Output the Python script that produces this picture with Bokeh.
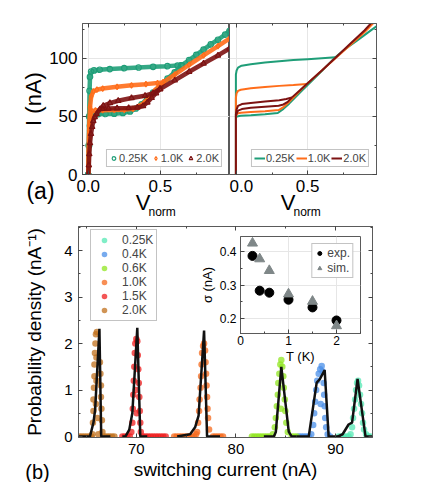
from bokeh.plotting import figure
from bokeh.models import (Range1d, LinearAxis, SingleIntervalTicker, Legend,
                          LegendItem, PrintfTickFormatter)
from bokeh.layouts import column, row
from bokeh.embed import file_html
from bokeh.resources import INLINE
from bokeh.core.properties import value

FONT = "Liberation Sans"

# ---------------- panel (a) data : experiment (left) ----------------
exp_025_up_v = [0.0, 0.003, 0.006, 0.009, 0.012, 0.02, 0.04, 0.08, 0.15, 0.25, 0.35, 0.45, 0.55, 0.62, 0.648]
exp_025_up_i = [0, 25, 50, 72, 84, 88.5, 89.6, 90.2, 90.8, 91.5, 92.1, 92.7, 93.3, 93.8, 94]
exp_025_norm_v = [0.648, 0.7, 0.75, 0.8, 0.85, 0.9, 0.95, 0.98]
exp_025_norm_i = [94, 98.5, 103, 107.5, 112, 116, 120.5, 123.5]
exp_025_down_v = [0.648, 0.6, 0.55, 0.5, 0.45, 0.41, 0.37, 0.33, 0.29, 0.24, 0.18, 0.12, 0.07, 0.035, 0.02, 0.012, 0.006, 0.0]
exp_025_down_i = [94, 88, 82.5, 76.5, 70.5, 65.5, 60.5, 56.8, 54.3, 53, 52.4, 52.1, 52, 51.8, 50, 42, 25, 0]

exp_10_up_v = [0.0, 0.003, 0.007, 0.012, 0.02, 0.035, 0.06, 0.1, 0.2, 0.3, 0.4, 0.48, 0.52]
exp_10_up_i = [0, 20, 42, 58, 67, 71.5, 73, 74, 75.5, 76.8, 77.8, 78.7, 79.3]
exp_10_norm_v = [0.52, 0.6, 0.7, 0.8, 0.9, 0.98]
exp_10_norm_i = [79.3, 86, 94.5, 102.5, 110.5, 117]
exp_10_down_v = [0.52, 0.49, 0.46, 0.43, 0.39, 0.35, 0.31, 0.25, 0.18, 0.1, 0.05, 0.025, 0.014, 0.007, 0.0]
exp_10_down_i = [79.3, 76, 72, 67, 62, 58.5, 56.5, 55.7, 55.5, 55.4, 55.2, 54.5, 50, 38, 0]

exp_20_up_v = [0.0, 0.004, 0.007, 0.012, 0.019, 0.027, 0.035, 0.045, 0.058, 0.081, 0.104, 0.15, 0.208, 0.3, 0.394, 0.45, 0.498]
exp_20_up_i = [0, 8, 17.5, 27, 35, 41, 46, 49.5, 52, 56.3, 59.2, 61.5, 63.5, 65.8, 67.8, 70, 73.6]
exp_20_norm_v = [0.498, 0.6, 0.7, 0.8, 0.9, 0.98]
exp_20_norm_i = [73.6, 81, 88.5, 95.5, 102.5, 108.5]
exp_20_down_v = [0.498, 0.47, 0.44, 0.41, 0.38, 0.34, 0.28, 0.2, 0.14, 0.1]
exp_20_down_i = [73.6, 70, 66, 62, 59, 57.6, 57.2, 57, 56.8, 56.5]

# ---------------- panel (a) data : simulation (right) ----------------
sim_025_up_v = [-0.005, -0.005, 0.0, 0.01, 0.035, 0.1, 0.2, 0.3, 0.4, 0.5, 0.6, 0.695]
sim_025_up_i = [0, 86, 89.5, 92, 93.7, 95, 96.5, 97.5, 98.5, 99.3, 100.1, 100.9]
sim_025_norm_v = [0.695, 0.75, 0.8, 0.85, 0.9, 0.95, 0.985]
sim_025_norm_i = [100.9, 106.5, 111, 115.5, 120, 124.5, 127.5]
sim_025_down_v = [0.695, 0.6, 0.5, 0.45, 0.41, 0.37, 0.33, 0.29, 0.2, 0.1, 0.03, 0.0, -0.005]
sim_025_down_i = [100.9, 89, 77, 71, 66, 61, 56.5, 53, 51.8, 51, 50.5, 50, 48]

sim_10_up_v = [-0.005, -0.005, 0.0, 0.01, 0.03, 0.1, 0.2, 0.3, 0.4, 0.495]
sim_10_up_i = [0, 66, 70, 72, 73, 74.2, 75.3, 76.3, 77.1, 77.9]
sim_10_norm_v = [0.495, 0.55, 0.6, 0.7, 0.8, 0.9, 0.96]
sim_10_norm_i = [77.9, 84, 89.5, 100.5, 111.5, 122.5, 130]
sim_10_down_v = [0.495, 0.45, 0.41, 0.37, 0.33, 0.296, 0.2, 0.1, 0.03, 0.005, -0.005]
sim_10_down_i = [77.9, 72.5, 67.5, 62.5, 58, 55.5, 54.5, 53.8, 53.2, 52.5, 50]

sim_20_up_v = [-0.005, -0.005, 0.0, 0.01, 0.037, 0.1, 0.2, 0.3, 0.35, 0.39]
sim_20_up_i = [0, 52, 56, 59, 60.6, 61.6, 62.8, 64, 65, 66.4]
sim_20_norm_v = [0.39, 0.45, 0.5, 0.6, 0.7, 0.8, 0.9, 0.945]
sim_20_norm_i = [66.4, 73, 78.5, 89.5, 101, 112.5, 124, 130]
sim_20_down_v = [0.39, 0.36, 0.33, 0.296, 0.2, 0.1, 0.037, 0.01, -0.005]
sim_20_down_i = [66.4, 62.5, 60.3, 59.2, 58.4, 57.5, 56.3, 55, 51]

temps_a = ["0.25K", "1.0K", "2.0K"]

# ---------------- panel (b) data : switching histograms ----------------
sw_20_x = [64.3, 64.55, 64.8, 65.05, 65.3, 65.5, 66.8, 67.05, 67.3, 67.55, 67.8,
           65.6, 65.65, 65.7, 65.7, 65.75, 65.8, 65.8, 65.85, 65.9, 65.95, 66.05, 66.0, 66.0, 65.95,
           66.1, 66.35, 66.4, 66.45, 66.45, 66.5, 66.55, 66.6, 66.2]
sw_20_y = [0, 0, 0, 0, 0, 0, 0, 0, 0, 0, 0,
           0.05, 0.3, 0.55, 0.8, 1.05, 1.3, 1.55, 1.8, 2.0, 2.2, 2.25, 1.7, 1.2, 0.7,
           0.4, 1.6, 1.35, 1.1, 0.85, 0.6, 0.35, 0.1, 0.05]
sw_15_x = [68.6, 68.85, 69.1, 69.35, 70.7, 70.95, 71.2, 71.45, 71.7, 71.95, 72.2, 72.45, 72.7, 72.95,
           69.5, 69.6, 69.65, 69.7, 69.75, 69.8, 69.85, 69.9, 70.0, 70.1, 70.15, 70.2, 70.25, 70.3,
           70.35, 70.4, 70.45, 69.95, 70.05]
sw_15_y = [0, 0, 0, 0, 0, 0, 0, 0, 0, 0, 0, 0, 0, 0,
           0.1, 0.3, 0.6, 0.9, 1.2, 1.5, 1.8, 2.0, 2.1, 2.05, 1.75, 1.45, 1.15, 0.85,
           0.55, 0.3, 0.1, 1.0, 0.5]
sw_10_x = [73.8, 74.05, 74.3, 74.55, 74.8, 75.05, 75.3, 75.55, 75.8, 77.7, 77.95, 78.2, 78.45, 78.7,
           76.1, 76.2, 76.3, 76.35, 76.45, 76.5, 76.55, 76.6, 76.7, 76.8, 76.9, 76.95, 77.0, 77.05,
           77.1, 77.15, 77.2, 77.3, 76.0]
sw_10_y = [0, 0, 0, 0, 0, 0, 0, 0, 0, 0, 0, 0, 0, 0,
           0.1, 0.3, 0.55, 0.8, 1.05, 1.3, 1.55, 1.8, 1.95, 2.0, 1.85, 1.6, 1.35, 1.1,
           0.85, 0.6, 0.4, 0.15, 0.05]
sw_06_x = [81.6, 81.85, 82.1, 82.35, 82.6, 82.85, 83.1, 83.35, 85.6, 85.85, 86.1,
           83.7, 83.9, 84.0, 84.1, 84.2, 84.25, 84.35, 84.45, 84.55, 84.65, 84.75, 84.8, 84.9,
           84.95, 85.05, 85.2, 84.5]
sw_06_y = [0, 0, 0, 0, 0, 0, 0, 0, 0, 0, 0,
           0.05, 0.2, 0.4, 0.65, 0.9, 1.15, 1.35, 1.55, 1.65, 1.5, 1.3, 1.05, 0.8,
           0.55, 0.3, 0.1, 0.6]
sw_04_x = [86.3, 86.55, 86.8, 87.05, 87.3, 89.45,
           87.55, 87.75, 87.85, 87.95, 88.05, 88.15, 88.3, 88.45, 88.6, 88.7, 88.8, 88.85, 88.9,
           88.95, 89.05, 89.2, 88.5]
sw_04_y = [0, 0, 0, 0, 0, 0,
           0.05, 0.25, 0.5, 0.75, 1.0, 1.2, 1.35, 1.45, 1.52, 1.4, 1.15, 0.9, 0.65,
           0.4, 0.2, 0.05, 0.7]
sw_025_x = [90.3, 90.55, 90.8, 91.05, 91.3, 93.3, 93.55,
            91.5, 91.65, 91.75, 91.85, 91.95, 92.05, 92.15, 92.25, 92.35, 92.45, 92.55, 92.65,
            92.75, 92.85, 93.05]
sw_025_y = [0, 0, 0, 0, 0, 0, 0,
            0.05, 0.2, 0.4, 0.6, 0.8, 1.0, 1.15, 1.2, 1.1, 0.9, 0.7, 0.5,
            0.3, 0.15, 0.05]

fit_20_x = [64.2, 65.35, 65.7, 65.87, 66.3, 66.48, 67.4]
fit_20_y = [0, 0, 0.3, 0.58, 2.32, 0, 0]
fit_15_x = [68.6, 68.9, 69.3, 69.6, 70.1, 70.4, 71.1]
fit_15_y = [0, 0, 0.15, 0.5, 2.34, 0, 0]
fit_10_x = [74.1, 75.4, 75.9, 76.25, 76.8, 77.1, 78.4]
fit_10_y = [0, 0.05, 0.2, 0.45, 2.28, 0, 0]
fit_06_x = [82.8, 83.8, 84.0, 84.55, 85.3, 85.6, 86.1]
fit_06_y = [0, 0, 0.1, 1.5, 0.1, 0, 0]
fit_04_x = [86.1, 87.3, 88.1, 88.4, 88.9, 89.3, 90.5]
fit_04_y = [0, 0, 1.16, 1.23, 1.43, 0, 0]
fit_025_x = [90.2, 90.7, 91.3, 91.65, 92.2, 93.0, 93.7]
fit_025_y = [0, 0.05, 0.26, 0.3, 1.24, 0, 0]

temps_b = ["0.25K", "0.4K", "0.6K", "1.0K", "1.5K", "2.0K"]

# ---------------- inset data ----------------
inset_T = [0.25, 0.4, 0.6, 1.0, 1.5, 2.0]
sigma_exp = [0.387, 0.283, 0.277, 0.256, 0.233, 0.194]
sigma_sim = [0.425, 0.378, 0.343, 0.273, 0.251, 0.178]

# ---------------- panel tags / axis texts ----------------
panel_tags = ["(a)", "(b)"]
vnorm_main = "V"
vnorm_sub = "norm"

# ---------------- colours ----------------
GREEN, ORANGE, DRED = "#1f9e78", "#ff6d1a", "#7d1212"
C025, C04, C06, C10, C15, C20 = "#55e8b4", "#4a8fe8", "#90e620", "#f66a1c", "#ef1d1d", "#c0701c"


def frame_style(p):
    p.outline_line_color = "#5a5a5a"
    p.outline_line_width = 1
    p.outline_line_alpha = 1
    p.background_fill_color = "white"
    p.border_fill_color = "white"


def axis_style(ax, label_size):
    ax.major_tick_in = 4
    ax.major_tick_out = 0
    ax.minor_tick_in = 2
    ax.minor_tick_out = 0
    ax.major_tick_line_color = "#444444"
    ax.minor_tick_line_color = "#444444"
    ax.axis_line_color = "#5a5a5a"
    ax.major_label_text_font = FONT
    ax.major_label_text_font_size = label_size
    ax.major_label_text_color = "black"
    ax.axis_label_text_font = FONT
    ax.axis_label_text_font_style = "normal"
    ax.axis_label_text_color = "black"


def tick_only_axis(ticker):
    ax = LinearAxis(ticker=ticker)
    axis_style(ax, "4px")
    ax.major_label_text_color = None
    ax.major_label_standoff = 0
    return ax


# ================= panel (a) left =================
xt_a = SingleIntervalTicker(interval=0.5, num_minor_ticks=2)
yt_a = SingleIntervalTicker(interval=50, num_minor_ticks=2)

pa1 = figure(width=229, height=218, x_range=Range1d(-0.04, 0.98), y_range=Range1d(0, 130),
             output_backend="svg", toolbar_location=None,
             min_border_left=82, min_border_right=0, min_border_top=23, min_border_bottom=44)
frame_style(pa1)
for ax in pa1.xaxis + pa1.yaxis:
    axis_style(ax, "17px")
pa1.xaxis.ticker = xt_a
pa1.yaxis.ticker = yt_a
pa1.xaxis.formatter = PrintfTickFormatter(format="%.1f")
pa1.xaxis.major_label_standoff = 5
pa1.yaxis.major_label_standoff = 5
pa1.yaxis.axis_label = "I (nA)"
pa1.yaxis.axis_label_text_font_size = "22px"
pa1.yaxis.axis_label_standoff = 0
pa1.xgrid.ticker = xt_a
pa1.ygrid.ticker = yt_a
pa1.grid.grid_line_color = "#e6e6e6"
pa1.add_layout(tick_only_axis(xt_a), "above")

marker_kw = dict(size=5.5, fill_color="white", fill_alpha=0.0, line_width=1.2)
legend_a1 = []
for name, col, mk, up_v, up_i, nv, ni, dv, di in [
        (temps_a[0], GREEN, "circle", exp_025_up_v, exp_025_up_i, exp_025_norm_v, exp_025_norm_i, exp_025_down_v, exp_025_down_i),
        (temps_a[1], ORANGE, "diamond", exp_10_up_v, exp_10_up_i, exp_10_norm_v, exp_10_norm_i, exp_10_down_v, exp_10_down_i),
        (temps_a[2], DRED, "triangle", exp_20_up_v, exp_20_up_i, exp_20_norm_v, exp_20_norm_i, exp_20_down_v, exp_20_down_i)]:
    for vv, ii in [(up_v, up_i), (nv, ni), (dv, di)]:
        pa1.line(vv, ii, line_color=col, line_width=4.5, line_alpha=0.9)
    sc = None
    for vv, ii in [(up_v, up_i), (nv, ni), (dv, di)]:
        r = pa1.scatter(vv, ii, marker=mk, line_color=col, **marker_kw)
        sc = sc or r
    legend_a1.append(LegendItem(label=name, renderers=[sc]))

leg1 = Legend(items=legend_a1, orientation="horizontal", location="bottom_right",
              margin=7, padding=2, spacing=3, glyph_width=9, glyph_height=10,
              label_standoff=1, label_height=10, label_text_font=FONT,
              label_text_font_size="11px", border_line_color="#888888",
              background_fill_alpha=1)
pa1.add_layout(leg1)

# ================= panel (a) right =================
pa2 = figure(width=155, height=218, x_range=Range1d(-0.05, 0.985), y_range=Range1d(0, 130),
             output_backend="svg", toolbar_location=None, y_axis_location=None,
             min_border_left=0, min_border_right=8, min_border_top=23, min_border_bottom=44)
frame_style(pa2)
for ax in pa2.xaxis:
    axis_style(ax, "17px")
pa2.xaxis.ticker = xt_a
pa2.xaxis.formatter = PrintfTickFormatter(format="%.1f")
pa2.xaxis.major_label_standoff = 5
pa2.xgrid.ticker = xt_a
pa2.ygrid.ticker = yt_a
pa2.grid.grid_line_color = "#e6e6e6"
pa2.add_layout(tick_only_axis(xt_a), "above")
pa2.add_layout(tick_only_axis(yt_a), "right")

legend_a2 = []
for name, col, up_v, up_i, nv, ni, dv, di in [
        (temps_a[0], GREEN, sim_025_up_v, sim_025_up_i, sim_025_norm_v, sim_025_norm_i, sim_025_down_v, sim_025_down_i),
        (temps_a[1], ORANGE, sim_10_up_v, sim_10_up_i, sim_10_norm_v, sim_10_norm_i, sim_10_down_v, sim_10_down_i),
        (temps_a[2], DRED, sim_20_up_v, sim_20_up_i, sim_20_norm_v, sim_20_norm_i, sim_20_down_v, sim_20_down_i)]:
    first = None
    for vv, ii in [(up_v, up_i), (nv, ni), (dv, di)]:
        r = pa2.line(vv, ii, line_color=col, line_width=2)
        first = first or r
    legend_a2.append(LegendItem(label=name, renderers=[first]))

leg2 = Legend(items=legend_a2, orientation="horizontal", location="bottom_right",
              margin=7, padding=2, spacing=1, glyph_width=11, glyph_height=10,
              label_standoff=1, label_height=10, label_text_font=FONT,
              label_text_font_size="11px", border_line_color="#888888")
pa2.add_layout(leg2)

# ================= panel (b) =================
xt_b = SingleIntervalTicker(interval=10, num_minor_ticks=2)
yt_b = SingleIntervalTicker(interval=1, num_minor_ticks=2)
pb = figure(width=380, height=264, x_range=Range1d(64.2, 93.7), y_range=Range1d(-0.02, 4.52),
            output_backend="svg", toolbar_location=None,
            min_border_left=78, min_border_right=8, min_border_top=8, min_border_bottom=44)
frame_style(pb)
for ax in pb.xaxis + pb.yaxis:
    axis_style(ax, "15px")
pb.xaxis.ticker = xt_b
pb.yaxis.ticker = yt_b
pb.grid.visible = False
pb.xaxis.axis_label = "switching current (nA)"
pb.yaxis.axis_label = "Probability density (nA\u207b\u00b9)"
pb.xaxis.axis_label_text_font_size = "19px"
pb.yaxis.axis_label_text_font_size = "19px"
pb.xaxis.major_label_standoff = 6
pb.yaxis.major_label_standoff = 6
pb.xaxis.axis_label_standoff = 2
pb.yaxis.axis_label_standoff = 16
pb.add_layout(tick_only_axis(xt_b), "above")
pb.add_layout(tick_only_axis(yt_b), "right")

series_b = [(temps_b[0], C025, sw_025_x, sw_025_y, fit_025_x, fit_025_y),
            (temps_b[1], C04, sw_04_x, sw_04_y, fit_04_x, fit_04_y),
            (temps_b[2], C06, sw_06_x, sw_06_y, fit_06_x, fit_06_y),
            (temps_b[3], C10, sw_10_x, sw_10_y, fit_10_x, fit_10_y),
            (temps_b[4], C15, sw_15_x, sw_15_y, fit_15_x, fit_15_y),
            (temps_b[5], C20, sw_20_x, sw_20_y, fit_20_x, fit_20_y)]
legend_b = []
for name, col, xs, ys, fx, fy in series_b:
    ln = pb.line(x=[], y=[], line_color=col, line_alpha=0.45, line_width=1.2)
    sc = pb.scatter(xs, ys, marker="circle", size=6.5, fill_color=col, fill_alpha=0.75,
                    line_color=None)
    legend_b.append(LegendItem(label=name, renderers=[ln, sc]))
for name, col, xs, ys, fx, fy in series_b:
    pb.line(fx, fy, line_color="#111111", line_width=2.5)

legb = Legend(items=legend_b, location=(12, 116), padding=3, spacing=0,
              glyph_width=20, glyph_height=14, label_height=14, label_standoff=8,
              label_text_font=FONT, label_text_font_size="12px",
              border_line_color="#888888", margin=0)
pb.add_layout(legb)

# ================= inset (separate root, placed over panel b) =================
xt_i = SingleIntervalTicker(interval=1, num_minor_ticks=2)
yt_i = SingleIntervalTicker(interval=0.1, num_minor_ticks=2)
pi = figure(width=168, height=133, x_range=Range1d(0, 2.5), y_range=Range1d(0.155, 0.445),
            output_backend="svg", toolbar_location=None,
            min_border_left=40, min_border_right=4, min_border_top=3, min_border_bottom=32)
pi.outline_line_color = "#5a5a5a"
pi.background_fill_color = "white"
pi.border_fill_alpha = 0
for ax in pi.xaxis + pi.yaxis:
    axis_style(ax, "12px")
pi.xaxis.ticker = xt_i
pi.yaxis.ticker = yt_i
pi.xgrid.ticker = xt_i
pi.ygrid.ticker = yt_i
pi.grid.grid_line_color = "#e6e6e6"
pi.xaxis.axis_label = "T (K)"
pi.yaxis.axis_label = "\u03c3 (nA)"
pi.xaxis.axis_label_text_font_size = "13px"
pi.yaxis.axis_label_text_font_size = "13px"
pi.xaxis.major_label_standoff = 2
pi.yaxis.major_label_standoff = 4
pi.xaxis.axis_label_standoff = 1
pi.yaxis.axis_label_standoff = 2
r_exp = pi.scatter(inset_T, sigma_exp, marker="circle", size=9, fill_color="black", line_color="black")
r_sim = pi.scatter(inset_T, sigma_sim, marker="triangle", size=10, fill_color="#7f8788",
                   line_color="#7f8788")
legi = Legend(items=[LegendItem(label="exp.", renderers=[r_exp]),
                     LegendItem(label="sim.", renderers=[r_sim])],
              location="top_right", margin=7, padding=2, spacing=1, glyph_width=10,
              glyph_height=14, label_height=14, label_standoff=3, label_width=10,
              label_text_font=FONT, label_text_font_size="12px",
              border_line_color="#888888")
pi.add_layout(legi)
pi.styles = {"position": "absolute", "left": "196px", "top": "233px"}

# ================= transparent text layer (panel tags, V_norm) =================
pt = figure(width=380, height=482, x_range=Range1d(0, 380), y_range=Range1d(482, 0),
            output_backend="svg", toolbar_location=None,
            x_axis_location=None, y_axis_location=None, min_border=0)
pt.outline_line_color = None
pt.background_fill_alpha = 0
pt.border_fill_alpha = 0
pt.grid.visible = False
pt.text(x=[40], y=[190], text=[panel_tags[0]], text_font=value(FONT), text_font_size="23px",
        text_align="center", text_baseline="middle", text_color="black")
pt.text(x=[37], y=[471], text=[panel_tags[1]], text_font=value(FONT), text_font_size="20px",
        text_align="center", text_baseline="middle", text_color="black")
pt.text(x=[142.5, 287.5], y=[202, 202], text=[vnorm_main, vnorm_main], text_font=value(FONT),
        text_font_size="22px", text_align="center", text_baseline="middle", text_color="black")
pt.text(x=[148, 293], y=[211, 211], text=[vnorm_sub, vnorm_sub], text_font=value(FONT),
        text_font_size="12px", text_align="left", text_baseline="middle", text_color="black")
pt.styles = {"position": "absolute", "left": "0px", "top": "0px", "pointer-events": "none"}

layout = column(row(pa1, pa2), pb)
open("out.html", "w").write(file_html([layout, pi, pt], INLINE))
